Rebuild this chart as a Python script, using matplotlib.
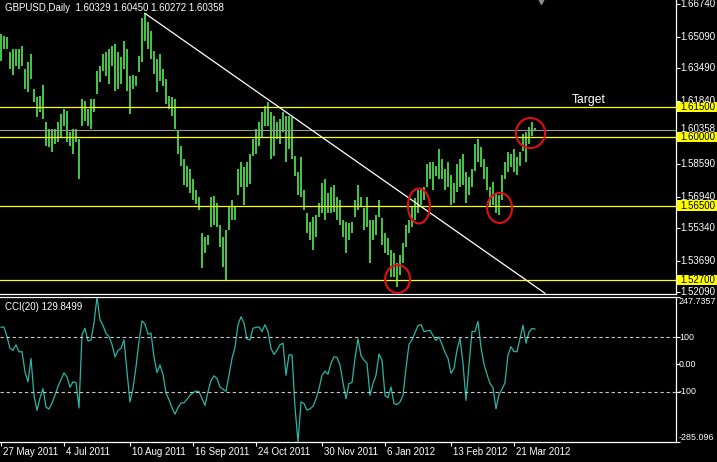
import numpy as np
import matplotlib.pyplot as plt
import matplotlib.transforms as mtransforms
from matplotlib.patches import Ellipse, Rectangle

plt.rcParams['font.family'] = ['Liberation Sans', 'DejaVu Sans']

# GBPUSD daily bars (high / low per bar)
highs = [
    1.6525, 1.6515, 1.6510, 1.6433, 1.6449, 1.6449, 1.6449, 1.6464, 1.6346, 1.6382,
    1.6423, 1.6244, 1.6203, 1.6208, 1.6264, 1.6075, 1.6039, 1.6039, 1.6039, 1.6075,
    1.6116, 1.6141, 1.6131, 1.6023, 1.6039, 1.6039, 1.5987, 1.6192, 1.6182, 1.6141,
    1.6192, 1.6192, 1.6336, 1.6361, 1.6423, 1.6433, 1.6449, 1.6464, 1.6474, 1.6433,
    1.6408, 1.6485, 1.6449, 1.6310, 1.6315,
    1.6310, 1.6413, 1.6602, 1.6628, 1.6582, 1.6536, 1.6438, 1.6397, 1.6423, 1.6346,
    1.6295, 1.6208, 1.6203, 1.6192, 1.6028, 1.5951, 1.5885, 1.5849, 1.5834, 1.5783,
    1.5731, 1.5695, 1.5512, 1.5491, 1.5501, 1.5695, 1.5701, 1.5665, 1.5553, 1.5491,
    1.5527, 1.5645, 1.5680, 1.5645, 1.5834, 1.5870, 1.5844, 1.5870, 1.5911, 1.5987,
    1.6039, 1.6075, 1.6126, 1.6156, 1.6177, 1.6126, 1.6105,
    1.6075, 1.6090, 1.6126, 1.6105, 1.6105, 1.6100, 1.5900, 1.5819, 1.5895, 1.5731,
    1.5614, 1.5568, 1.5594, 1.5604, 1.5665, 1.5767, 1.5783, 1.5716, 1.5747, 1.5757,
    1.5695, 1.5680, 1.5578, 1.5568, 1.5563, 1.5568, 1.5680, 1.5757, 1.5695, 1.5640,
    1.5695, 1.5578, 1.5578, 1.5604, 1.5680, 1.5588, 1.5512, 1.5486, 1.5424, 1.5409,
    1.5358, 1.5399, 1.5460, 1.5553, 1.5578,
    1.5645, 1.5690, 1.5731, 1.5731, 1.5747, 1.5860, 1.5870, 1.5870, 1.5849, 1.5936,
    1.5885, 1.5834, 1.5870, 1.5808, 1.5767, 1.5860, 1.5885, 1.5911, 1.5819, 1.5793,
    1.5834, 1.5962, 1.5987, 1.5946, 1.5885, 1.5844, 1.5747, 1.5772, 1.5716, 1.5706,
    1.5808, 1.5870, 1.5921, 1.5911, 1.5936, 1.5895, 1.5921, 1.6013, 1.6023, 1.6049,
    1.6075, 1.6045,
]
lows = [
    1.6387, 1.6449, 1.6449, 1.6346, 1.6315, 1.6361, 1.6346, 1.6361, 1.6244, 1.6228,
    1.6295, 1.6177, 1.6100, 1.6126, 1.6090, 1.5951, 1.5946, 1.5921, 1.5962, 1.5972,
    1.5998, 1.6054, 1.5972, 1.5951, 1.5911, 1.5972, 1.5783, 1.6054, 1.6080, 1.6054,
    1.6039, 1.6126, 1.6218, 1.6280, 1.6336, 1.6310, 1.6269, 1.6361, 1.6234, 1.6244,
    1.6269, 1.6346, 1.6234, 1.6116, 1.6244,
    1.6259, 1.6331, 1.6382, 1.6485, 1.6449, 1.6397, 1.6320, 1.6228, 1.6285, 1.6259,
    1.6167, 1.6141, 1.6105, 1.6039, 1.5911, 1.5849, 1.5757, 1.5747, 1.5716, 1.5680,
    1.5660, 1.5629, 1.5333, 1.5409, 1.5450, 1.5542, 1.5553, 1.5542, 1.5440, 1.5338,
    1.5270, 1.5527, 1.5578, 1.5578, 1.5706, 1.5747, 1.5655, 1.5747, 1.5762, 1.5900,
    1.5911, 1.5951, 1.5998, 1.6054, 1.6054, 1.5885, 1.5900,
    1.5987, 1.5962, 1.6023, 1.5870, 1.5936, 1.5885, 1.5798, 1.5706, 1.5695, 1.5629,
    1.5512, 1.5475, 1.5424, 1.5491, 1.5594, 1.5614, 1.5578, 1.5614, 1.5614, 1.5619,
    1.5578, 1.5553, 1.5491, 1.5409, 1.5475, 1.5512, 1.5594, 1.5629, 1.5645, 1.5527,
    1.5542, 1.5358, 1.5475, 1.5501, 1.5594, 1.5450, 1.5409, 1.5399, 1.5287, 1.5287,
    1.5234, 1.5297, 1.5358, 1.5440, 1.5512,
    1.5542, 1.5578, 1.5614, 1.5655, 1.5680, 1.5742, 1.5783, 1.5731, 1.5798, 1.5783,
    1.5783, 1.5731, 1.5747, 1.5655, 1.5665, 1.5721, 1.5747, 1.5757, 1.5665, 1.5706,
    1.5747, 1.5824, 1.5870, 1.5844, 1.5783, 1.5731, 1.5645, 1.5655, 1.5614, 1.5604,
    1.5680, 1.5783, 1.5819, 1.5844, 1.5819, 1.5808, 1.5849, 1.5926, 1.5870, 1.5962,
    1.6003, 1.6027,
]

# CCI(20), one value per bar
cci = [
    137, 137, 102, 59, 52, 72, 46, 47, -27, -64,
    22, -114, -169, -123, -89, -157, -164, -142, -114, -81,
    -56, -31, -46, -84, -64, -67, -160, 109, 133, 86,
    90, 152, 247.7357, 164, 143, 114, 102, 73, 28, 51,
    59, 90, -27, -138, -89, -9, 84, 160, 148, 111,
    115, 28, -30, -2, -37, -104, -130, -159, -183, -159,
    -142, -141, -128, -114, -104, -98, -100, -126, -151, -100,
    -59, -42, -52, -83, -91, -99, -40, 22, 63, 146,
    175, 152, 93, 90, 133, 136, 138, 121, 146, 121,
    59, 37, 52, 72, 78, -40, 35, 35, -157, -285.096,
    -138, -144, -168, -163, -154, -127, -90, -40, -25, -36,
    4, 28, 26, -2, -67, -126, -70, -67, 22, 94,
    32, 16, 4, -114, -70, -40, 38, 15, -114, -123,
    -83, -144, -148, -138, -114, -15, 74, 90, 117, 143,
    146, 121, 123, 125, 106, 88, 101, 74, 44, 22,
    -33, -15, 53, 96, 4, -132, -2, 121, 121, 158,
    63, 1, -37, -70, -86, -163, -110, -91, -67, 35,
    65, 47, 47, 96, 144, 78, 119, 132, 129.8499,
]

last_ohlc = [1.60329, 1.60450, 1.60272, 1.60358]
levels = [1.6150, 1.6000, 1.5650, 1.5270]
price_ticks = [1.66740, 1.65090, 1.63490, 1.61840, 1.58590, 1.56940, 1.55340, 1.53690, 1.52090]
cci_ticks = [247.7357, 100, 0, -100, -285.096]
cci_tick_labels = ['247.7357', '100', '0.00', '-100', '-285.096']
date_labels = ['27 May 2011', '4 Jul 2011', '10 Aug 2011', '16 Sep 2011', '24 Oct 2011',
               '30 Nov 2011', '6 Jan 2012', '13 Feb 2012', '21 Mar 2012']
date_bars = [0, 21, 43, 64, 85, 107, 128, 150, 171]

# trend line anchors (bar, price) and marked spots (bar, price)
trend = [(48, 1.6628), (181.3, 1.5204)]
circles = [(132.2, 1.5276), (139.3, 1.5648), (166.2, 1.5638), (176.5, 1.6019)]
circle_sizes = [(8.3, 0.0142), (7.3, 0.0178), (8.3, 0.0153), (9.7, 0.0153)]

green = '#4ee04e'
yellow = '#ffff00'
fs = 7

fig = plt.figure(figsize=(7.17, 4.62), dpi=100, facecolor='black')
W, H = 717, 462
ax = fig.add_axes([0, 1 - 294 / H, 676 / W, 294 / H], facecolor='black')
ax2 = fig.add_axes([0, 1 - 442 / H, 676 / W, 145 / H], facecolor='black')

x = np.arange(len(highs))
ax.vlines(x, lows, highs, color=green, lw=1.25)

for lv in levels:
    ax.axhline(lv, color=yellow, lw=0.9, zorder=3)
ax.axhline(last_ohlc[3], color='#9a9a9a', lw=0.8, zorder=2)

ax.plot([trend[0][0], trend[1][0]], [trend[0][1], trend[1][1]], color='white', lw=0.9, zorder=4)

for (cx, cy), (w, h) in zip(circles, circle_sizes):
    ax.add_patch(Ellipse((cx, cy), w, h, fill=False, ec='#e01010', lw=1.5, zorder=5))

ax.text(190.3, 1.6187, 'Target', color='white', fontsize=8.7, va='center', ha='left')

ax.set_xlim(-0.33, 225)
ax.set_ylim(1.5200, 1.6696)

# right price scale
ty = mtransforms.blended_transform_factory(ax.transAxes, ax.transData)
ax.set_xticks([])
ax.set_yticks(price_ticks + levels)
ax.set_yticklabels([])
ax.tick_params(axis='y', left=False, right=True, length=3, width=0.8, color='white')
for v in price_ticks:
    ax.text(1 + 4 / 676, v, '%.5f' % v, transform=ty, color='white', fontsize=fs,
            va='center', ha='left', clip_on=False, zorder=6)
ax.text(1 + 4 / 676, last_ohlc[3] + 0.0004, '%.5f' % last_ohlc[3], transform=ty, color='white',
        fontsize=fs, va='center', ha='left', clip_on=False, zorder=7,
        bbox=dict(boxstyle='square,pad=0.05', fc='black', ec='none'))
for lv in levels:
    ax.add_patch(Rectangle((1 + 1 / 676, lv - 0.0026), 45 / 676, 0.0052, transform=ty,
                           fc=yellow, ec='none', clip_on=False, zorder=8))
    ax.text(1 + 4 / 676, lv, '%.5f' % lv, transform=ty, color='black', fontsize=fs,
            va='center', ha='left', clip_on=False, zorder=9)

for s in ['top', 'left']:
    ax.spines[s].set_visible(False)
for s in ['right', 'bottom']:
    ax.spines[s].set_color('white')
    ax.spines[s].set_linewidth(0.9)

ax.plot([180], [0.995], marker='v', color='#8a8a8a', ms=5,
        transform=mtransforms.blended_transform_factory(ax.transData, ax.transAxes), clip_on=False)

# CCI panel
ax2.plot(np.arange(len(cci)), cci, color='#2ab5a5', lw=0.9)
for lv in [100, -100]:
    ax2.axhline(lv, color='#c8c8c8', lw=0.8, dashes=(3, 2.5))
ax2.set_xlim(-0.33, 225)
ax2.set_ylim(-285.096, 247.7357)
ax2.spines['left'].set_visible(False)
for s in ['top', 'right', 'bottom']:
    ax2.spines[s].set_color('white')
    ax2.spines[s].set_linewidth(0.9)
ax2.set_yticks(cci_ticks)
ax2.set_yticklabels([])
ax2.tick_params(axis='y', left=False, right=True, length=3, width=0.8, color='white')
ty2 = mtransforms.blended_transform_factory(ax2.transAxes, ax2.transData)
for v, lab in zip(cci_ticks, cci_tick_labels):
    va = 'top' if v == max(cci_ticks) else ('bottom' if v == min(cci_ticks) else 'center')
    ax2.text(1 + 3 / 676, v, lab, transform=ty2, color='white', fontsize=6.4,
             va=va, ha='left', clip_on=False)

ax2.set_xticks(date_bars)
ax2.set_xticklabels([])
ax2.tick_params(axis='x', bottom=True, length=3, width=0.8, color='white')
tx2 = mtransforms.blended_transform_factory(ax2.transData, ax2.transAxes)
for b, lab in zip(date_bars, date_labels):
    ax2.text(b + 0.6, -10 / 145, lab, transform=tx2, color='white', fontsize=fs,
             va='center', ha='left', clip_on=False)

fig.text(5 / W, 1 - 8 / H, 'GBPUSD,Daily  ' + ' '.join('%.5f' % v for v in last_ohlc),
         color='white', fontsize=fs, va='center', ha='left')
fig.text(5 / W, 1 - 307 / H, 'CCI(20) %.4f' % cci[-1], color='white', fontsize=fs,
         va='center', ha='left')

fig.savefig('out.png', dpi=100, facecolor='black')
